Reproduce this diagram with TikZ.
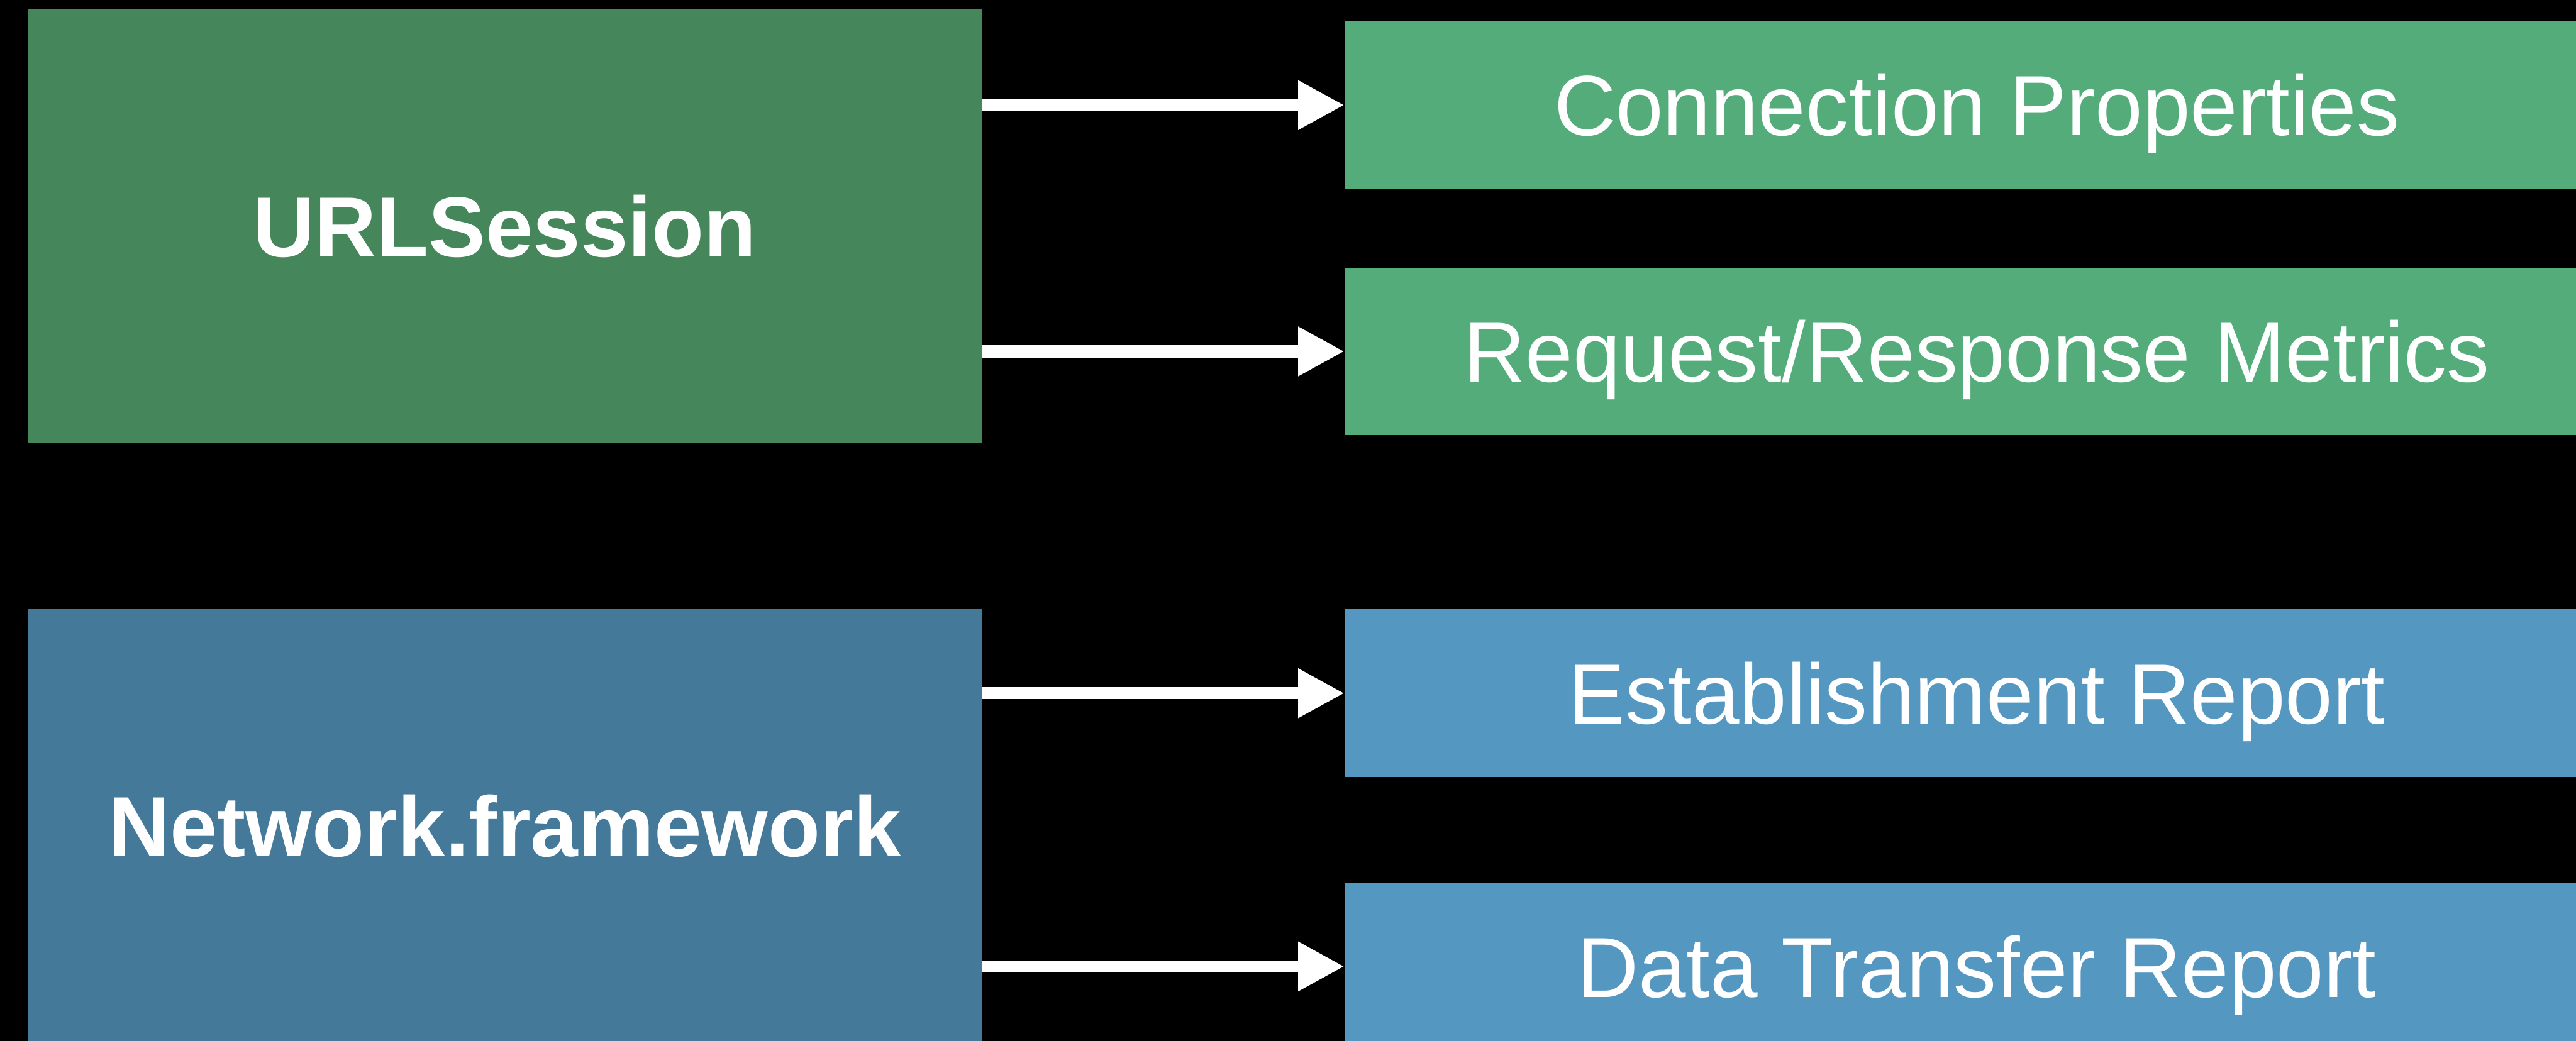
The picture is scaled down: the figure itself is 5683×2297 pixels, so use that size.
\documentclass[tikz,border=0pt]{standalone}
\usepackage{fontspec}
\setmainfont{Liberation Sans}
\usetikzlibrary{arrows.meta}

\definecolor{sessiondark}{RGB}{69,135,91}
\definecolor{sessionlight}{RGB}{84,172,123}
\definecolor{networkdark}{RGB}{68,121,153}
\definecolor{networklight}{RGB}{84,151,193}

\tikzset{
  box/.style={rectangle, inner sep=0pt, outer sep=0pt, text=white,
    text height=135pt, text depth=0pt},
  labelfont/.style={font={\fontsize{188.5}{226}\selectfont}},
  srcbox/.style={box, minimum width=2105pt, minimum height=958pt,
    font={\fontsize{188.5}{226}\selectfont\bfseries}},
  dstbox/.style={box, labelfont, minimum width=2790pt, minimum height=370pt},
  link/.style={draw=white, line width=27pt,
    -{Triangle[length=102pt,width=102pt]}}
}

\begin{document}
\begin{tikzpicture}[x=1pt,y=-1pt]
  % page area with black background
  \useasboundingbox (0,0) rectangle (5683,2297);
  \fill[black] (0,0) rectangle (5683,2297);
  \clip (0,0) rectangle (5683,2297);

  % frameworks
  \node[srcbox, fill=sessiondark] (us) at (1113.5,499) {URLSession};
  \node[srcbox, fill=networkdark] (nf) at (1113.5,1823) {Network.framework};

  % metrics each framework provides
  \node[dstbox, fill=sessionlight] (cp) at (4361,232)   {Connection Properties};
  \node[dstbox, fill=sessionlight] (rr) at (4361,775.5) {Request/Response Metrics};
  \node[dstbox, fill=networklight] (er) at (4361,1530)  {Establishment Report};
  \node[dstbox, fill=networklight] (dt) at (4361,2133)  {Data Transfer Report};

  % connectors
  \draw[link] (us.east |- cp.west) -- (cp.west);
  \draw[link] (us.east |- rr.west) -- (rr.west);
  \draw[link] (nf.east |- er.west) -- (er.west);
  \draw[link] (nf.east |- dt.west) -- (dt.west);
\end{tikzpicture}
\end{document}
